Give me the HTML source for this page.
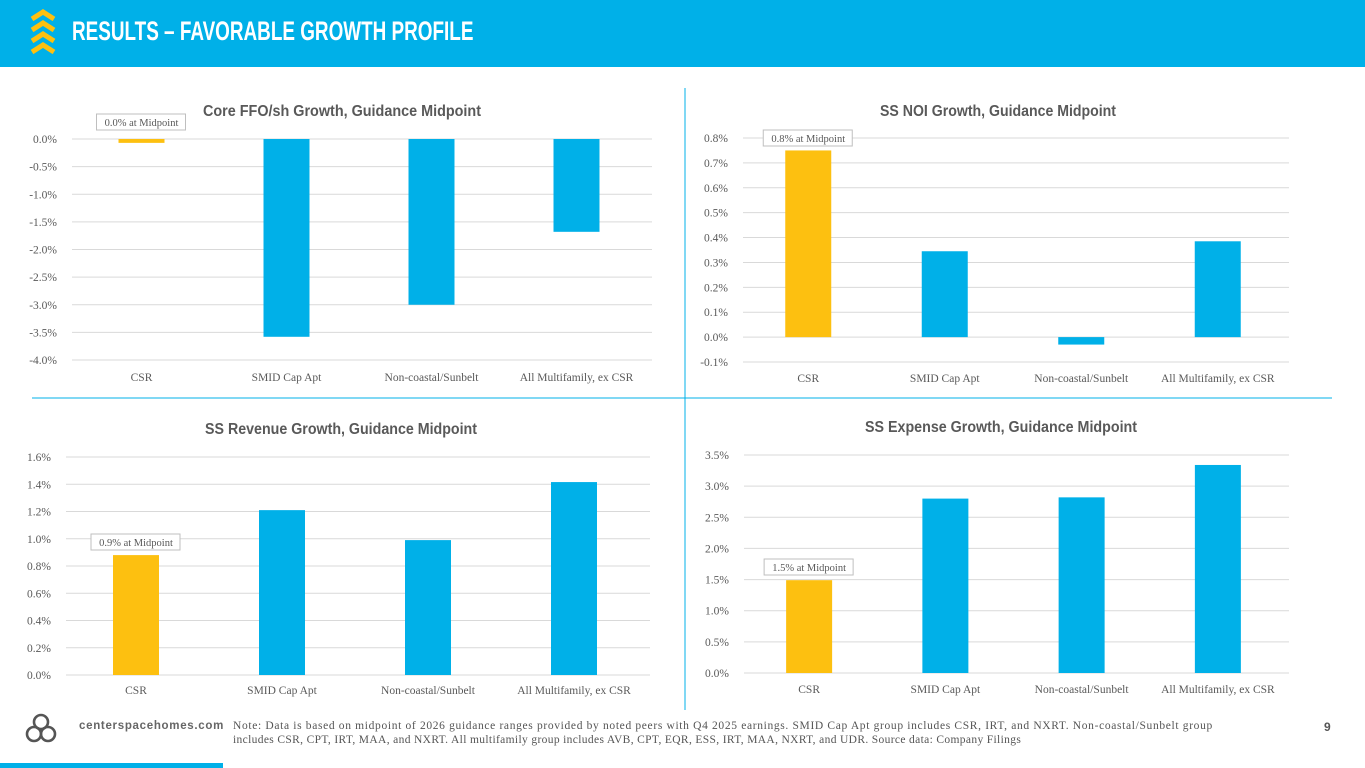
<!DOCTYPE html>
<html><head><meta charset="utf-8"><style>
body{margin:0;width:1365px;height:768px;overflow:hidden;background:#fff;font-family:"Liberation Sans",sans-serif;position:relative}
#hdr{position:absolute;left:0;top:0;width:1365px;height:67px;background:#00b0e8}
#hdr h1{position:absolute;left:72px;top:16px;margin:0;color:#fff;font:bold 27px "Liberation Sans",sans-serif;white-space:nowrap;transform:scaleX(0.70);transform-origin:left}
svg text{font-family:"Liberation Serif",serif}
.fn{white-space:nowrap}
</style></head><body>
<div id="hdr">
<svg width="30" height="50" style="position:absolute;left:28px;top:9px">
<g fill="none" stroke="#fdc010" stroke-width="5"><path d="M4 10 L15 3 L26 10"/><path d="M4 21 L15 14 L26 21"/><path d="M4 32 L15 25 L26 32"/><path d="M4 43 L15 36 L26 43"/></g></svg>
<h1>RESULTS – FAVORABLE GROWTH PROFILE</h1>
</div>
<svg id="c" width="1365" height="768" style="position:absolute;left:0;top:0"></svg>
<div style="position:absolute;left:0;top:763px;width:223px;height:5px;background:#00b0e8"></div>
<svg width="34" height="34" style="position:absolute;left:24px;top:712px"><g fill="none" stroke="#555" stroke-width="2.6"><circle cx="17" cy="10" r="7"/><circle cx="10" cy="22" r="7"/><circle cx="24" cy="22" r="7"/></g></svg>
<div style="position:absolute;left:79px;top:720px;font:bold 11.5px 'Liberation Sans',sans-serif;color:#666;letter-spacing:0.7px">centerspacehomes.com</div>
<div style="position:absolute;left:233px;top:719px;font:11.5px 'Liberation Serif',serif;color:#555;line-height:14px"><div class="fn" style="letter-spacing:0.66px">Note: Data is based on midpoint of 2026 guidance ranges provided by noted peers with Q4 2025 earnings. SMID Cap Apt group includes CSR, IRT, and NXRT. Non-coastal/Sunbelt group</div><div class="fn" style="letter-spacing:0.35px">includes CSR, CPT, IRT, MAA, and NXRT. All multifamily group includes AVB, CPT, EQR, ESS, IRT, MAA, NXRT, and UDR. Source data: Company Filings</div></div>
<div style="position:absolute;left:1324px;top:720px;font:bold 12px 'Liberation Sans',sans-serif;color:#555">9</div>
<script>
const categories=["CSR","SMID Cap Apt","Non-coastal/Sunbelt","All Multifamily, ex CSR"];
const ffoValues=[-0.07,-3.58,-3.0,-1.68];
const noiValues=[0.75,0.345,-0.03,0.385];
const revValues=[0.88,1.21,0.99,1.416];
const expValues=[1.49,2.8,2.82,3.34];
const ffoTicks=[0,-0.5,-1,-1.5,-2,-2.5,-3,-3.5,-4];
const noiTicks=[0.8,0.7,0.6,0.5,0.4,0.3,0.2,0.1,0,-0.1];
const revTicks=[1.6,1.4,1.2,1.0,0.8,0.6,0.4,0.2,0];
const expTicks=[3.5,3,2.5,2,1.5,1,0.5,0];
const titles=["Core FFO/sh Growth, Guidance Midpoint","SS NOI Growth, Guidance Midpoint","SS Revenue Growth, Guidance Midpoint","SS Expense Growth, Guidance Midpoint"];
const notes=["0.0% at Midpoint","0.8% at Midpoint","0.9% at Midpoint","1.5% at Midpoint"];
const svg=document.getElementById('c');const NS='http://www.w3.org/2000/svg';
function mk(t,a,p){const e=document.createElementNS(NS,t);for(const k in a)e.setAttribute(k,a[k]);(p||svg).appendChild(e);return e;}
function chart(id,vals,ticks,title,note,x0,x1,yTop,yBot,titleY,catY,noteBox,titleW,titleX){
 const g=mk('g',{});
 
 
 const tmax=ticks[0],tmin=ticks[ticks.length-1];
 const y=v=>yTop+(tmax-v)/(tmax-tmin)*(yBot-yTop);
 const bw=(x1-x0)/4;
 ticks.forEach(t=>{mk('line',{x1:x0,x2:x1,y1:y(t),y2:y(t),stroke:'#d9d9d9','stroke-width':1},g);
  const tx=mk('text',{x:x0-15,y:y(t)+4,'text-anchor':'end','font-size':11.5,fill:'#595959'},g);tx.textContent=t.toFixed(1)+'%';
  });
 vals.forEach((v,i)=>{const cx=x0+bw*(i+0.5)-3;const a=y(Math.max(v,0)),b=y(Math.min(v,0));
  const r=mk('rect',{x:cx-23,y:a,width:46,height:b-a,fill:i==0?'#fdc010':'#00b0e8'},g);
  
  
  const c=mk('text',{x:cx,y:catY,'text-anchor':'middle','font-size':11.5,fill:'#595959'},g);c.textContent=categories[i];
  });
 const t=mk('text',{x:titleX,y:titleY,'text-anchor':'middle','font-size':16,'font-weight':'bold',fill:'#595959',textLength:titleW,lengthAdjust:'spacingAndGlyphs',style:'font-family:"Liberation Sans",sans-serif'},g);t.textContent=title;
 
 const cx=x0+bw*0.5-3;
 const rb=mk('rect',{x:cx-45,y:noteBox,width:89,height:16,fill:'#fff',stroke:'#bfbfbf'},g);
 
 const nt=mk('text',{x:cx,y:noteBox+12,'text-anchor':'middle','font-size':10.5,fill:'#595959'},g);nt.textContent=note;
 
}
chart('core-ffo',ffoValues,ffoTicks,titles[0],notes[0],72,652,139,360,116,381,114,278,342);
chart('ss-noi',noiValues,noiTicks,titles[1],notes[1],743,1289,138,362,116,382,130,236,998);
chart('ss-revenue',revValues,revTicks,titles[2],notes[2],66,650,457,675,434,694,534,272,341);
chart('ss-expense',expValues,expTicks,titles[3],notes[3],744,1289,455,673,432,693,559,272,1001);
const d1=mk('line',{x1:685,x2:685,y1:88,y2:710,stroke:'#00b0e8','stroke-width':1});

const d2=mk('line',{x1:32,x2:1332,y1:398,y2:398,stroke:'#00b0e8','stroke-width':1});

</script>
</body></html>
